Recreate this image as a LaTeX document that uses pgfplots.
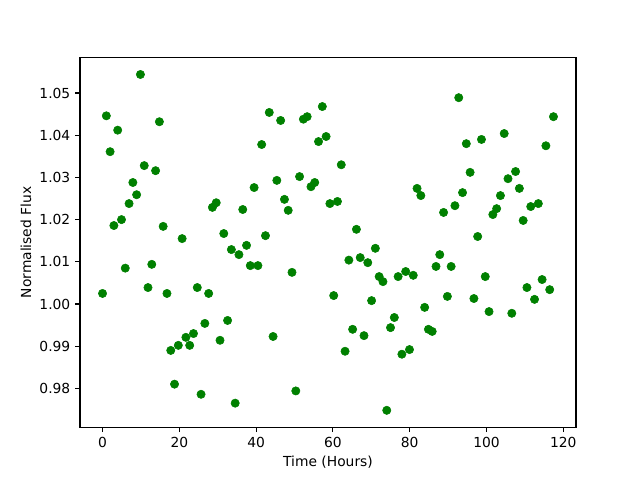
\documentclass[border=0pt]{standalone}
\usepackage{pgfplots}
\pgfplotsset{compat=1.18}
\usepackage{pgfplotstable}
\usepackage{fontspec}
\setmainfont{DejaVu Sans}
\definecolor{mplgreen}{HTML}{008000}
\pgfplotstableread{
x y
0 1.0025
0.99 1.0446
1.97 1.0361
2.96 1.0186
3.95 1.0412
4.94 1.0200
5.92 1.0085
6.91 1.0238
7.90 1.0288
8.88 1.0259
9.87 1.0544
10.86 1.0328
11.84 1.0039
12.83 1.0094
13.82 1.0316
14.81 1.0432
15.79 1.0184
16.78 1.0025
17.77 0.9890
18.75 0.9810
19.74 0.9902
20.73 1.0155
21.71 0.9921
22.70 0.9902
23.69 0.9930
24.68 1.0039
25.66 0.9786
26.65 0.9954
27.64 1.0025
28.62 1.0229
29.61 1.0240
30.60 0.9914
31.58 1.0167
32.57 0.9961
33.56 1.0129
34.55 0.9765
35.53 1.0117
36.52 1.0224
37.51 1.0139
38.49 1.0091
39.48 1.0276
40.47 1.0091
41.45 1.0378
42.44 1.0162
43.43 1.0454
44.42 0.9923
45.40 1.0293
46.39 1.0435
47.38 1.0248
48.36 1.0222
49.35 1.0075
50.34 0.9794
51.32 1.0302
52.31 1.0438
53.30 1.0444
54.29 1.0278
55.27 1.0288
56.26 1.0385
57.25 1.0468
58.23 1.0397
59.22 1.0238
60.21 1.0020
61.19 1.0243
62.18 1.0330
63.17 0.9888
64.16 1.0104
65.14 0.9940
66.13 1.0177
67.12 1.0110
68.10 0.9925
69.09 1.0098
70.08 1.0008
71.06 1.0132
72.05 1.0065
73.04 1.0053
74.03 0.9748
75.01 0.9944
76.00 0.9968
76.99 1.0065
77.97 0.9881
78.96 1.0077
79.95 0.9892
80.93 1.0068
81.92 1.0274
82.91 1.0257
83.90 0.9992
84.88 0.9940
85.87 0.9935
86.86 1.0089
87.84 1.0117
88.83 1.0217
89.82 1.0018
90.80 1.0089
91.79 1.0233
92.78 1.0489
93.77 1.0264
94.75 1.0380
95.74 1.0312
96.73 1.0013
97.71 1.0160
98.70 1.0390
99.69 1.0065
100.67 0.9982
101.66 1.0212
102.65 1.0226
103.64 1.0257
104.62 1.0404
105.61 1.0297
106.60 0.9978
107.58 1.0314
108.57 1.0274
109.56 1.0198
110.54 1.0039
111.53 1.0231
112.52 1.0011
113.51 1.0238
114.49 1.0058
115.48 1.0375
116.47 1.0034
117.45 1.0444
}\fluxdata
\begin{document}
\begin{tikzpicture}
\begin{axis}[
  at={(0,0)}, anchor=south west,
  scale only axis,
  width=4.96in, height=3.696in,
  xmin=-5.87, xmax=123.32,
  ymin=0.9708, ymax=1.0584,
  xtick={0,20,40,60,80,100,120},
  ytick={0.98,0.99,1.00,1.01,1.02,1.03,1.04,1.05},
  yticklabel style={/pgf/number format/.cd, fixed, fixed zerofill, precision=2},
  /pgf/number format/assume math mode=true,
  tick pos=left,
  tick align=outside,
  major tick length=3.5pt,
  every tick/.style={black, line width=0.8pt},
  axis line style={line width=0.8pt},
  tick label style={font=\fontsize{10}{12}\selectfont},
  label style={font=\fontsize{10}{12}\selectfont},
  xlabel={Time (Hours)},
  ylabel={Normalised Flux},
  xlabel style={yshift=1pt},
  ylabel style={yshift=-1pt},
]
\addplot[only marks, mark=*, mark size=3pt, mplgreen, mark options={draw=mplgreen, fill=mplgreen}] table[x=x, y=y] {\fluxdata};
\end{axis}
\pgfresetboundingbox
\path[use as bounding box] (-0.8in,-0.528in) rectangle (5.6in,4.272in);
\end{tikzpicture}
\end{document}
